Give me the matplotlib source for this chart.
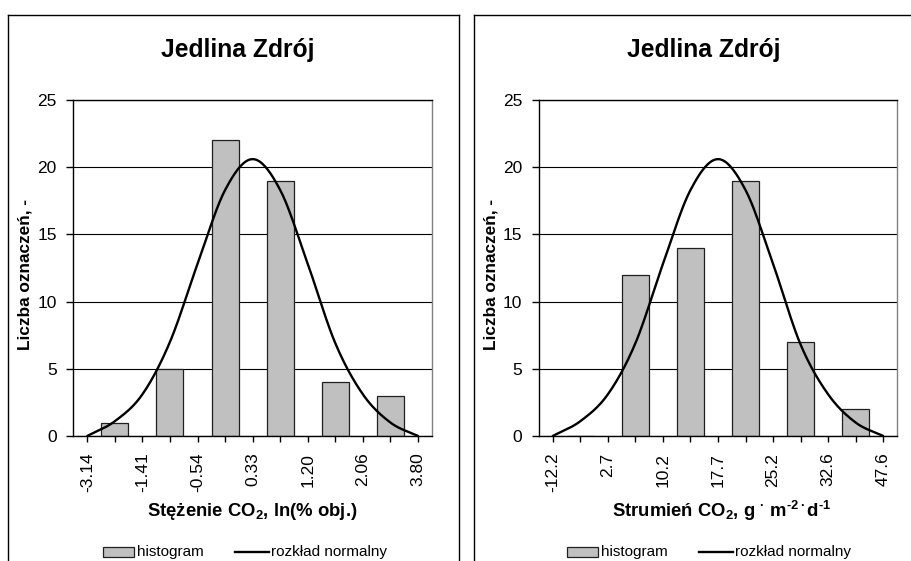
import numpy as np
import matplotlib
matplotlib.use("Agg")
import matplotlib.pyplot as plt
from matplotlib.lines import Line2D
from matplotlib.patches import Rectangle

plt.rcParams['font.family'] = ['Liberation Sans', 'DejaVu Sans']
plt.rcParams['mathtext.default'] = 'regular'

# ---------------- data ----------------
title = "Jedlina Zdrój"
ylabel = "Liczba oznaczeń, -"

left_xlabels = ["-3.14", "-1.41", "-0.54", "0.33", "1.20", "2.06", "3.80"]
left_hist = [1, 5, 22, 19, 4, 3]
left_curve = [0, 1.1, 3.1, 7.0, 12.8, 18.3, 20.6, 18.3, 12.8, 6.9, 3.1, 1.0, 0]
left_xtitle = "Stężenie CO$_\\mathregular{2}$, ln(% obj.)"

right_xlabels = ["-12.2", "2.7", "10.2", "17.7", "25.2", "32.6", "47.6"]
right_hist = [0, 12, 14, 19, 7, 2]
right_curve = [0, 1.1, 3.1, 6.9, 12.8, 18.3, 20.6, 18.3, 12.8, 6.8, 3.1, 1.0, 0]
right_xtitle = ("Strumień CO$_\\mathregular{2}$, g $^\\mathregular{·}$ "
                "m$^\\mathregular{\u20102\\,·\\,}$d$^\\mathregular{\u20101}$")

legend_labels = ["histogram", "rozkład normalny"]

W, H = 912, 561
fig = plt.figure(figsize=(W / 100, H / 100), dpi=100)


def fx(px):
    return px / W


def fy(py):
    return 1 - py / H


def smooth(y, n=20):
    # Catmull-Rom smoothing through the given points (like Excel's smoothed line)
    y = np.asarray(y, float)
    x = np.arange(len(y), dtype=float)
    P = np.vstack([x, y]).T
    P = np.vstack([P[0] - (P[1] - P[0]), P, P[-1] + (P[-1] - P[-2])])
    out = []
    t = np.linspace(0, 1, n, endpoint=False)[:, None]
    for i in range(1, len(P) - 2):
        p0, p1, p2, p3 = P[i - 1], P[i], P[i + 1], P[i + 2]
        seg = 0.5 * ((2 * p1) + (-p0 + p2) * t + (2 * p0 - 5 * p1 + 4 * p2 - p3) * t ** 2
                     + (-p0 + 3 * p1 - 3 * p2 + p3) * t ** 3)
        out.append(seg)
    out.append(P[-2][None, :])
    out = np.vstack(out)
    return out[:, 0], out[:, 1]


def draw_panel(ax_rect, hist, curve, xlabels):
    ax = fig.add_axes(ax_rect)
    ncat = len(curve)
    bar_pos = np.arange(1, ncat, 2)[:len(hist)]
    ax.bar(bar_pos, hist, width=0.98, color='#C0C0C0', edgecolor='#202020', linewidth=0.9, zorder=2)
    sx, sy = smooth(curve)
    ax.plot(sx, sy, color='black', lw=1.7, zorder=3, solid_capstyle='round')
    ax.set_xlim(-0.5, ncat - 0.5)
    ax.set_ylim(0, 25)
    ax.set_yticks([0, 5, 10, 15, 20, 25])
    ax.set_xticks(np.arange(ncat))
    labels = []
    k = 0
    for i in range(ncat):
        if i % 2 == 0:
            labels.append(xlabels[k])
            k += 1
        else:
            labels.append("")
    ax.set_xticklabels(labels, rotation=90, fontsize=12.5)
    ax.tick_params(axis='y', labelsize=12.5, length=5, width=1, pad=7, direction='out')
    ax.tick_params(axis='x', length=4, width=1, pad=8, direction='out')
    ax.yaxis.grid(True, color='black', lw=0.8, zorder=1)
    ax.set_axisbelow(True)
    for s in ['left', 'bottom', 'top']:
        ax.spines[s].set_color('black')
        ax.spines[s].set_linewidth(1.0)
    ax.spines['right'].set_color('#808080')
    ax.spines['right'].set_linewidth(1.0)
    return ax


axL = draw_panel([fx(73.5), fy(436), fx(431.8 - 73.5), (436 - 100) / H], left_hist, left_curve, left_xlabels)
axR = draw_panel([fx(539), fy(436), fx(897 - 539), (436 - 100) / H], right_hist, right_curve, right_xlabels)

# titles
fig.text(fx(238), fy(50), title, ha='center', va='center', fontsize=17.7, fontweight='bold')
fig.text(fx(704), fy(50), title, ha='center', va='center', fontsize=17.7, fontweight='bold')

# y labels
fig.text(fx(25), fy(274), ylabel, rotation=90, ha='center', va='center', fontsize=12.4, fontweight='bold')
fig.text(fx(491), fy(274), ylabel, rotation=90, ha='center', va='center', fontsize=12.4, fontweight='bold')

# x labels
fig.text(fx(252.5), fy(511), left_xtitle, ha='center', va='center', fontsize=13.3, fontweight='bold')
fig.text(fx(722), fy(511), right_xtitle, ha='center', va='center', fontsize=13.3, fontweight='bold')

# frames
lw_frame = 1.0
fig.add_artist(Line2D([fx(8), fx(8)], [-0.05, fy(15)], color='black', lw=lw_frame))
fig.add_artist(Line2D([fx(8), fx(459)], [fy(15), fy(15)], color='black', lw=lw_frame))
fig.add_artist(Line2D([fx(459), fx(459)], [-0.05, fy(15)], color='black', lw=lw_frame))
fig.add_artist(Line2D([fx(474), fx(474)], [-0.05, fy(15)], color='black', lw=lw_frame))
fig.add_artist(Line2D([fx(474), 1.05], [fy(15), fy(15)], color='black', lw=lw_frame))


# legends
def legend(x_patch, x_line):
    fig.add_artist(Rectangle((fx(x_patch), fy(557)), fx(31), 10 / H, facecolor='#C0C0C0',
                             edgecolor='#202020', lw=0.9))
    fig.text(fx(x_patch + 34), fy(552), legend_labels[0], ha='left', va='center', fontsize=11)
    fig.add_artist(Line2D([fx(x_line), fx(x_line + 34)], [fy(552), fy(552)], color='black', lw=1.7))
    fig.text(fx(x_line + 36), fy(552), legend_labels[1], ha='left', va='center', fontsize=11)


legend(103, 235)
legend(567, 699)

fig.savefig("out.png", dpi=100)
